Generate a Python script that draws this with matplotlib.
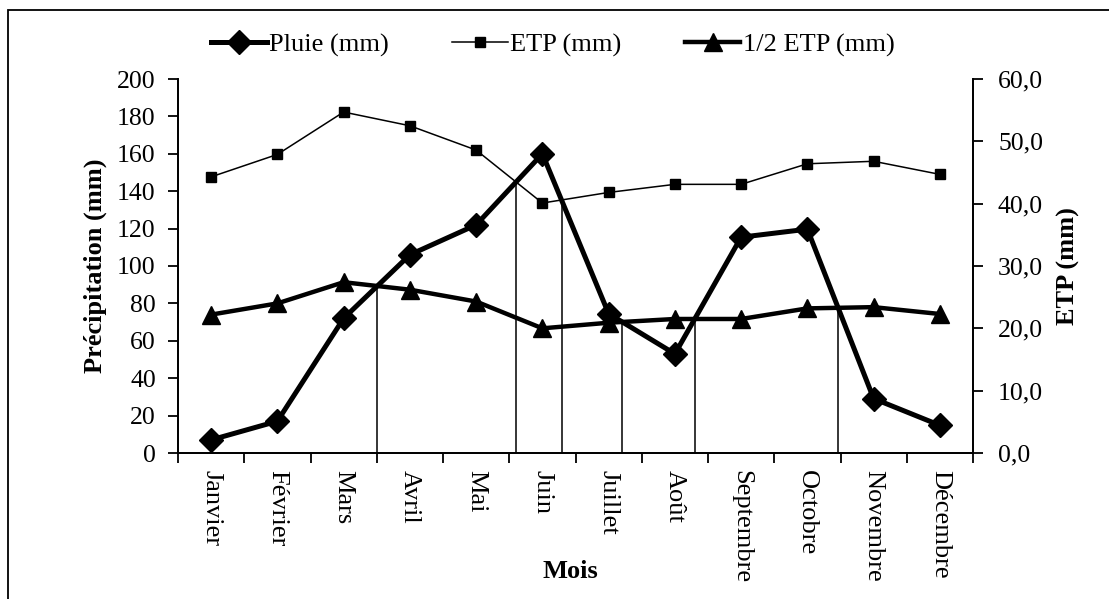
import numpy as np
import matplotlib
matplotlib.use('Agg')
import matplotlib.pyplot as plt
from matplotlib.patches import Rectangle
from matplotlib.ticker import FixedLocator, FuncFormatter

plt.rcParams['font.family'] = ['Liberation Serif', 'DejaVu Serif']

# Données
mois = ['Janvier', 'Février', 'Mars', 'Avril', 'Mai', 'Juin', 'Juillet',
        'Août', 'Septembre', 'Octobre', 'Novembre', 'Décembre']
pluie = [7, 17, 72, 106, 122, 160, 74.5, 53, 115.4, 119.7, 29.1, 14.8]
etp = [44.3, 47.9, 54.7, 52.5, 48.6, 40.1, 41.8, 43.1, 43.1, 46.4, 46.8, 44.7]
demi_etp = [22.2, 24.0, 27.4, 26.2, 24.3, 20.0, 20.9, 21.5, 21.5, 23.2, 23.4, 22.3]

fig = plt.figure(figsize=(11.09, 5.99), dpi=100)
ax = fig.add_axes([178 / 1109, 1 - 453 / 599, (973 - 178) / 1109, (453 - 79) / 599])
ax2 = ax.twinx()

x = np.arange(len(mois))
l1, = ax.plot(x, pluie, color='black', lw=3.6, marker='D', ms=12, zorder=5)
l2, = ax2.plot(x, etp, color='black', lw=1.1, marker='s', ms=6.5)
l3, = ax2.plot(x, demi_etp, color='black', lw=3.2, marker='^', ms=13)

# traits verticaux aux intersections (pluie / ETP et pluie / 1/2 ETP)
scale = 200 / 60
p = np.array(pluie, float)
for serie in (np.array(etp) * scale, np.array(demi_etp) * scale):
    d = p - serie
    for i in range(len(d) - 1):
        if d[i] * d[i + 1] < 0:
            t = d[i] / (d[i] - d[i + 1])
            xc = i + t
            yc = p[i] + t * (p[i + 1] - p[i])
            ax.plot([xc, xc], [0, yc], color='black', lw=1.1, zorder=3)

ax.set_xlim(-0.5, len(mois) - 0.5)
ax.set_ylim(0, 200)
ax2.set_ylim(0, 60)
ax.set_yticks(np.arange(0, 201, 20))
ax2.set_yticks(np.arange(0, 61, 10))
ax2.yaxis.set_major_formatter(FuncFormatter(lambda v, _: f'{v:.1f}'.replace('.', ',')))

ax.xaxis.set_major_locator(FixedLocator(np.arange(-0.5, len(mois), 1)))
ax.xaxis.set_minor_locator(FixedLocator(x))
ax.set_xticklabels([], minor=False)
ax.set_xticklabels(mois, minor=True, rotation=-90, va='top', ha='center')
ax.tick_params(axis='x', which='major', length=7, width=1.3, direction='out')
ax.tick_params(axis='x', which='minor', length=0, pad=12, labelsize=19)
ax.tick_params(axis='y', length=7, width=1.3, labelsize=18.5, pad=9)
ax2.tick_params(axis='y', length=7, width=1.3, labelsize=18.5, pad=11)

for a in (ax, ax2):
    a.spines['top'].set_visible(False)
    for s in ('left', 'right', 'bottom'):
        a.spines[s].set_linewidth(1.3)

ax.set_ylabel('Précipitation (mm)', fontsize=19, fontweight='bold', va='center')
ax.yaxis.set_label_coords((95 - 178) / 795, 0.5)
ax2.set_ylabel('ETP (mm)', fontsize=19, fontweight='bold', va='center')
ax2.yaxis.set_label_coords((1068 - 178) / 795, 0.5)
ax.set_xlabel('Mois', fontsize=19, fontweight='bold', va='center')
ax.xaxis.set_label_coords((570 - 178) / 795, (453 - 571) / 374)

fig.legend([l1, l2, l3], ['Pluie (mm)', 'ETP (mm)', '1/2 ETP (mm)'],
           loc='center', bbox_to_anchor=(553 / 1109, 1 - 45 / 599), ncol=3,
           frameon=False, fontsize=19, handlelength=2.1, handletextpad=0.1,
           columnspacing=2.4)

# cadre autour du graphique
fig.patches.append(Rectangle((8 / 1109, -0.1), 1.2, 1 - 10 / 599 + 0.1,
                             transform=fig.transFigure, fill=False,
                             edgecolor='black', lw=1.3))

fig.savefig('out.png', dpi=100)
